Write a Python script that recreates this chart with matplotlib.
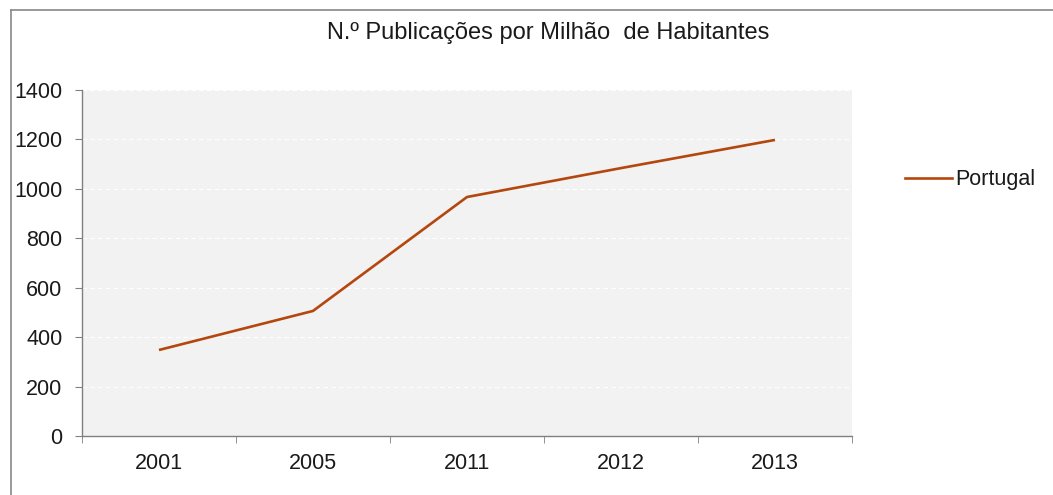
import matplotlib
matplotlib.use("Agg")
import matplotlib.pyplot as plt
from matplotlib.lines import Line2D

plt.rcParams['font.family'] = ['Liberation Sans', 'DejaVu Sans']

years = ["2001", "2005", "2011", "2012", "2013"]
portugal = [348, 506, 967, 1084, 1198]
title = "N.º Publicações por Milhão  de Habitantes"

W, H = 1053, 495
fig = plt.figure(figsize=(W / 100, H / 100), dpi=100)
ax = fig.add_axes([82 / W, 1 - 436 / H, (852 - 82) / W, (436 - 90) / H])
ax.set_facecolor('#f2f2f2')

x = list(range(len(years)))
ax.plot(x, portugal, color='#B4470D', lw=1.9, label='Portugal', solid_capstyle='butt')

ax.set_xlim(-0.5, len(years) - 0.5)
ax.set_ylim(0, 1400)
ax.set_yticks(range(0, 1401, 200))
ax.set_xticks(x)
ax.set_xticklabels(years)
ax.set_xticks([i - 0.5 for i in range(len(years) + 1)], minor=True)
ax.tick_params(axis='x', which='major', length=0, pad=12, labelsize=15.5)
ax.tick_params(axis='x', which='minor', length=5, color='#808080', direction='out')
ax.tick_params(axis='y', length=5, color='#808080', pad=9, labelsize=15.5)
for lab in ax.get_xticklabels() + ax.get_yticklabels():
    lab.set_color('#1a1a1a')

ax.grid(axis='y', color='white', linestyle=(0, (4, 3)), lw=0.8)
ax.set_axisbelow(True)
for s in ['top', 'right']:
    ax.spines[s].set_visible(False)
for s in ['left', 'bottom']:
    ax.spines[s].set_color('#808080')
    ax.spines[s].set_linewidth(1.0)

fig.text(548 / W, 1 - 33 / H, title, ha='center', va='center', fontsize=17, color='#1a1a1a')

leg = fig.legend(handles=[Line2D([0], [0], color='#B4470D', lw=1.9)], labels=['Portugal'],
                 loc='center left', bbox_to_anchor=(905 / W, 1 - 180 / H), frameon=False,
                 fontsize=15.5, handlelength=2.2, handletextpad=0.15, borderpad=0,
                 borderaxespad=0)
for t in leg.get_texts():
    t.set_color('#1a1a1a')

# chart area border
fig.add_artist(Line2D([11 / W, 11 / W], [0, 1 - 10 / H], color='#888888', lw=1.2,
                      transform=fig.transFigure))
fig.add_artist(Line2D([11 / W, 1], [1 - 10 / H, 1 - 10 / H], color='#888888', lw=1.2,
                      transform=fig.transFigure))

fig.savefig('out.png', dpi=100)
